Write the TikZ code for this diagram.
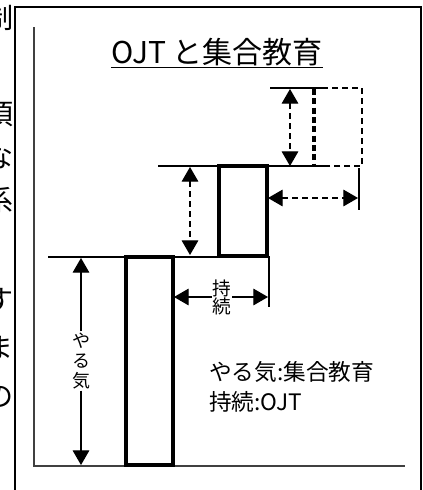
\documentclass[tikz,border=0pt]{standalone}
\usepackage{fontspec}
\setmainfont{Noto Sans CJK JP}
\usetikzlibrary{arrows.meta}
\tikzset{
  frameline/.style={line width=0.9pt,black},
  axisline/.style={line width=1.4pt,black!75},
  barbox/.style={line width=2.6pt,black},
  thinline/.style={line width=0.8pt,black},
  dashline/.style={line width=0.8pt,black,dash pattern=on 4.5pt off 3pt},
  solidarrow/.style={line width=0.8pt,black,-{Triangle[length=11pt,width=12.5pt]}},
  dasharrow/.style={line width=0.8pt,black,dash pattern=on 4.5pt off 3pt,{Triangle[length=11pt,width=12.5pt]}-{Triangle[length=11pt,width=12.5pt]}},
  sidechar/.style={font=\fontsize{21pt}{21pt}\selectfont,inner sep=0pt}
}
\begin{document}
\begin{tikzpicture}[x=0.75pt,y=-0.75pt]
\useasboundingbox (0,0) rectangle (423,490);
% clipped characters of the surrounding page
\begin{scope}
\clip (0,0) rectangle (13,490);
\node[sidechar] (s1) at (-1,18) {制};
\node[sidechar] (s2) at (-1,115) {頂};
\node[sidechar] (s3) at (-1,157) {な};
\node[sidechar] (s4) at (-1,200) {系};
\node[sidechar] (s5) at (-1,300) {す};
\node[sidechar] (s6) at (-1,348) {ま};
\node[sidechar] (s7) at (-1,397) {の};
\node[sidechar] (s8) at (-1,448) {、};
\end{scope}
% frame
\draw[frameline] (15,490) -- (15,7) -- (421,7) -- (421,490);
% axes
\coordinate (axtop) at (34,27);
\coordinate (origin) at (34,466);
\coordinate (axright) at (405,466);
\draw[axisline] (axtop) -- (origin) -- (axright);
% title
\node[font=\fontsize{22.5pt}{22.5pt}\selectfont,inner sep=0pt,anchor=base] (title) at (217,63) {OJT と集合教育};
\draw[line width=1pt] ([yshift=-3.2pt]title.base west) -- ([yshift=-3.2pt]title.base east);
% level lines
\coordinate (l1a) at (48,257);
\coordinate (l1b) at (269,257);
\coordinate (l1c) at (269,307);
\draw[thinline] (l1a) -- (l1b) -- (l1c);
\coordinate (l2a) at (158,166);
\coordinate (l2b) at (328,166);
\coordinate (l2c) at (362,166);
\draw[thinline] (l2a) -- (l2b);
\coordinate (l2v1) at (359,168);
\coordinate (l2v2) at (359,210);
\draw[thinline] (l2v1) -- (l2v2);
\coordinate (l3a) at (270,88);
\coordinate (l3b) at (322,88);
\coordinate (l3c) at (362,88);
\draw[thinline] (l3a) -- (l3b);
% bars
\draw[barbox] (126,257) rectangle (173,465);
\draw[barbox] (219,166) rectangle (267,256);
% dashed bar
\draw[dashline] (l3b) -- (l3c) -- (l2c) -- (l2b);
\draw[line width=2.4pt,dash pattern=on 4.5pt off 2.5pt] (314,89) -- (314,165);
% yaruki arrow
\node[font=\fontsize{13.5pt}{15pt}\selectfont,align=center,inner sep=1pt] (yaruki) at (81,361) {や\\る\\気};
\draw[solidarrow] (yaruki.north) -- (81,258);
\draw[solidarrow] (yaruki.south) -- (81,465);
% jizoku arrow
\node[font=\fontsize{14pt}{13.5pt}\selectfont,align=center,inner sep=0.5pt] (jizoku) at (222,297) {持\\続};
\draw[solidarrow] (jizoku.west) -- (174,297);
\draw[solidarrow] (jizoku.east) -- (268,297);
% dashed arrows
\draw[dasharrow] (190,167) -- (190,255);
\draw[dasharrow] (268,198) -- (358,198);
\draw[dasharrow] (290,89) -- (290,166);
% legend
\node[font=\fontsize{17pt}{17pt}\selectfont,anchor=west,inner sep=0pt] (leg1) at (209,372) {やる気:集合教育};
\node[font=\fontsize{17pt}{17pt}\selectfont,anchor=west,inner sep=0pt] (leg2) at (209,402) {持続:OJT};
\end{tikzpicture}
\end{document}
